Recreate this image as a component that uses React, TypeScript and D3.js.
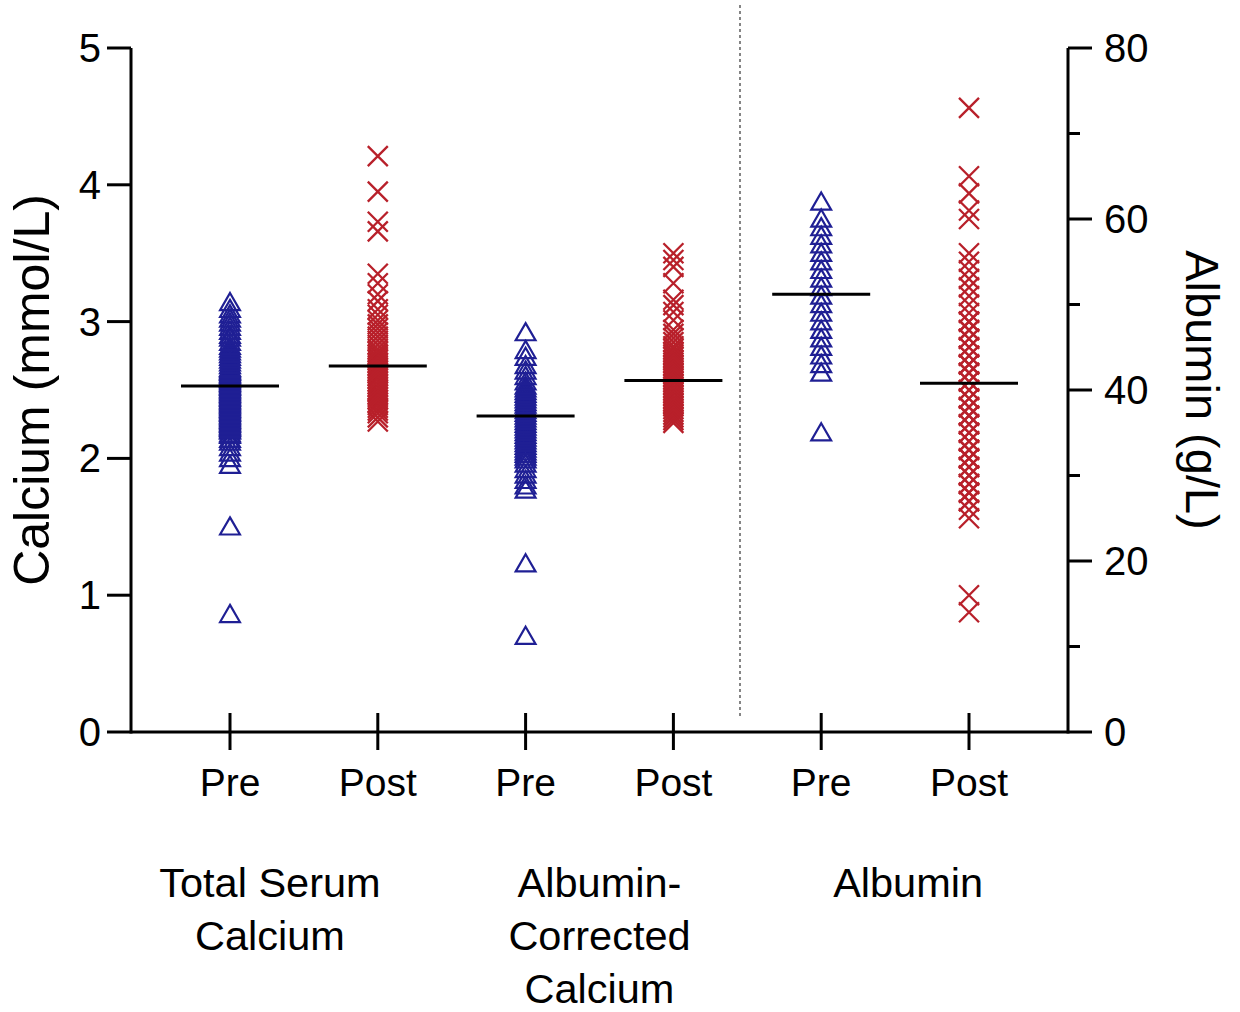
import * as d3 from 'd3';

// calcium, mmol/L (left axis)
const totalPre = [0.86, 1.5, 1.95, 2.0, 2.04, 2.08, 2.12, 2.14, 2.17, 2.18, 2.2, 2.21, 2.22, 2.23, 2.24, 2.25, 2.26, 2.27, 2.28, 2.29, 2.3, 2.31, 2.32, 2.33, 2.34, 2.35, 2.36, 2.37, 2.38, 2.39, 2.4, 2.41, 2.42, 2.43, 2.44, 2.45, 2.46, 2.47, 2.48, 2.49, 2.5, 2.51, 2.52, 2.53, 2.54, 2.55, 2.56, 2.57, 2.58, 2.59, 2.6, 2.61, 2.62, 2.63, 2.64, 2.65, 2.66, 2.68, 2.7, 2.72, 2.74, 2.76, 2.78, 2.8, 2.82, 2.85, 2.88, 2.9, 2.93, 2.96, 2.99, 3.02, 3.05, 3.09, 3.14];
const totalPost = [2.27, 2.3, 2.33, 2.35, 2.37, 2.39, 2.41, 2.43, 2.45, 2.47, 2.49, 2.5, 2.52, 2.54, 2.56, 2.58, 2.6, 2.62, 2.64, 2.66, 2.68, 2.7, 2.72, 2.74, 2.76, 2.78, 2.8, 2.83, 2.86, 2.89, 2.92, 2.95, 2.98, 3.01, 3.05, 3.09, 3.15, 3.2, 3.28, 3.35, 3.66, 3.73, 3.95, 4.21];
const corrPre = [0.7, 1.23, 1.77, 1.8, 1.84, 1.88, 1.92, 1.96, 1.99, 2.01, 2.03, 2.05, 2.07, 2.09, 2.11, 2.13, 2.15, 2.17, 2.19, 2.21, 2.23, 2.25, 2.27, 2.29, 2.31, 2.33, 2.35, 2.37, 2.39, 2.41, 2.43, 2.45, 2.47, 2.49, 2.51, 2.53, 2.56, 2.6, 2.64, 2.68, 2.74, 2.79, 2.92];
const corrPost = [2.26, 2.28, 2.3, 2.32, 2.34, 2.36, 2.38, 2.4, 2.42, 2.44, 2.46, 2.48, 2.5, 2.52, 2.54, 2.56, 2.58, 2.6, 2.62, 2.64, 2.66, 2.68, 2.7, 2.72, 2.74, 2.76, 2.78, 2.8, 2.82, 2.85, 2.88, 2.91, 2.94, 3.01, 3.07, 3.12, 3.16, 3.28, 3.4, 3.45, 3.5];
// albumin, g/L (right axis)
const albPre = [35, 42, 43, 44, 45, 46, 47, 48, 49, 50, 51, 52, 53, 54, 55, 56, 57, 58, 59, 60, 62];
const albPost = [14, 16, 25, 26, 27, 27, 28, 28, 29, 29, 30, 30, 31, 31, 32, 32, 33, 33, 34, 34, 35, 35, 36, 36, 37, 37, 38, 38, 39, 39, 40, 40, 41, 41, 42, 42, 43, 43, 44, 44, 45, 45, 46, 46, 47, 47, 48, 48, 49, 50, 51, 52, 53, 54, 55, 56, 60, 61, 63, 65, 73];

const columns = ['Pre', 'Post', 'Pre', 'Post', 'Pre', 'Post'];
const columnData = [totalPre, totalPost, corrPre, corrPost, albPre, albPost];
const columnAxis = ['left', 'left', 'left', 'left', 'right', 'right'];
const columnMeans = [2.53, 2.675, 2.31, 2.57, 51.2, 40.8];
const groupLabels = [['Total Serum', 'Calcium'], ['Albumin-', 'Corrected', 'Calcium'], ['Albumin']];
const leftTicks = [0, 1, 2, 3, 4, 5];
const rightTicks = [0, 20, 40, 60, 80];
const rightMinor = [10, 30, 50, 70];

const BLUE = '#1f1f94';
const RED = '#b8202a';
const FONT = '"Liberation Sans", Arial, sans-serif';

const App = () => {
  const left = 131;
  const right = 1068;
  const top = 48;
  const bottom = 732;

  const x = d3.scaleLinear().domain([0, 5]).range([230, 969]);
  const yL = d3.scaleLinear().domain([0, 5]).range([bottom, top]);
  const yR = d3.scaleLinear().domain([0, 80]).range([bottom, top]);
  const yFor = (i) => (columnAxis[i] === 'left' ? yL : yR);

  const tri = d3.symbol().type(d3.symbolTriangle).size(170)();
  const cross = 'M-10,-10L10,10M-10,10L10,-10';

  const groupX = [(x(0) + x(1)) / 2 - 34, (x(2) + x(3)) / 2, (x(4) + x(5)) / 2 + 13];

  return (
    <svg width={1240} height={1012} style={{ position: 'absolute', left: 0, top: 0 }} fontFamily={FONT}>
      <rect width={1240} height={1012} fill="#fff" />

      {/* dotted separator */}
      <line x1={740} x2={740} y1={5} y2={718} stroke="#444" strokeWidth={1.3} strokeDasharray="3,3" />

      {/* points */}
      {columnData.map((vals, i) => (
        <g key={i}>
          {vals.map((v, j) =>
            i % 2 === 0 ? (
              <path key={j} d={tri} transform={`translate(${x(i)},${yFor(i)(v) + 2})`} fill="none" stroke={BLUE} strokeWidth={2.2} />
            ) : (
              <path key={j} d={cross} transform={`translate(${x(i)},${yFor(i)(v)})`} fill="none" stroke={RED} strokeWidth={2.3} />
            )
          )}
        </g>
      ))}

      {/* mean lines */}
      {columnMeans.map((m, i) => (
        <line key={i} x1={x(i) - 49} x2={x(i) + 49} y1={yFor(i)(m)} y2={yFor(i)(m)} stroke="#000" strokeWidth={3} />
      ))}

      {/* axes */}
      <g stroke="#000" strokeWidth={3} fill="none">
        <line x1={left} x2={left} y1={top} y2={bottom + 1.5} />
        <line x1={right} x2={right} y1={top} y2={bottom + 1.5} />
        <line x1={left} x2={right} y1={bottom} y2={bottom} />
        {leftTicks.map((t) => (
          <line key={t} x1={left - 24} x2={left} y1={yL(t)} y2={yL(t)} />
        ))}
        {rightTicks.map((t) => (
          <line key={t} x1={right} x2={right + 24} y1={yR(t)} y2={yR(t)} />
        ))}
        {rightMinor.map((t) => (
          <line key={t} x1={right} x2={right + 12} y1={yR(t)} y2={yR(t)} />
        ))}
        {columns.map((c, i) => (
          <line key={i} x1={x(i)} x2={x(i)} y1={bottom - 19} y2={bottom + 18} />
        ))}
      </g>

      <g fontSize={40} fill="#000">
        {leftTicks.map((t) => (
          <text key={t} x={101} y={yL(t)} dy="0.35em" textAnchor="end">{t}</text>
        ))}
        {rightTicks.map((t) => (
          <text key={t} x={1104} y={yR(t)} dy="0.35em">{t}</text>
        ))}
      </g>
      <g fontSize={39} fill="#000">
        {columns.map((c, i) => (
          <text key={i} x={x(i)} y={796} textAnchor="middle">{c}</text>
        ))}
      </g>

      <g fontSize={41.5} fill="#000" textAnchor="middle">
        {groupLabels.map((lines, g) =>
          lines.map((s, k) => (
            <text key={`${g}-${k}`} x={groupX[g]} y={897 + k * 53}>{s}</text>
          ))
        )}
      </g>

      <text transform="translate(49,390) rotate(-90)" fontSize={50} textAnchor="middle">Calcium (mmol/L)</text>
      <text transform="translate(1186,390) rotate(90)" fontSize={47} textAnchor="middle">Albumin (g/L)</text>
    </svg>
  );
};

export default App;
